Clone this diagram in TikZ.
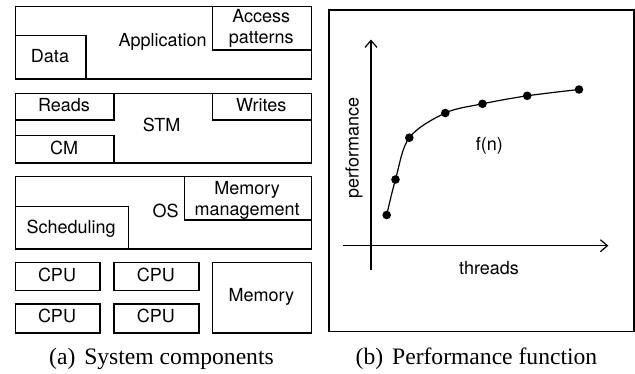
\documentclass[tikz,border=0pt]{standalone}
\usepackage{fontspec}
\setmainfont{Liberation Serif}
\setsansfont{TeX Gyre Heros}
\usetikzlibrary{arrows.meta}
\tikzset{
  blk/.style={draw, line width=1.2pt, inner sep=0pt, anchor=north west},
  lbl/.style={font=\sffamily\fontsize{18}{20}\selectfont, anchor=base, inner sep=0pt},
  captext/.style={font=\fontsize{23.6}{26}\selectfont, anchor=base, inner sep=0pt},
  axis/.style={line width=1.2pt, -{Straight Barb[length=7pt,width=12pt,line width=1.2pt]}},
  dot/.style={circle, fill=black, inner sep=0pt, minimum size=8.6pt},
}
\newcommand{\blkbox}[5]{\node[blk, minimum width=#4pt, minimum height=#5pt] (#1) at (#2,#3) {};}
\begin{document}
\begin{tikzpicture}[x=1pt, y=-1pt]
\useasboundingbox (0,0) rectangle (635,373);

% ---- (a) layered system components ----
% Application layer
\blkbox{app}{14.7}{6}{296}{72.3}
\blkbox{data}{14.7}{35}{70.6}{43.3}
\blkbox{access}{212}{6}{98.7}{43.3}
\node[lbl] (tapp) at (162.7,46.7) {Application};
\node[lbl] (tdata) at (50,62.3) {Data};
\node[lbl] (tacc1) at (261.3,22) {Access};
\node[lbl] (tacc2) at (261.3,43.3) {patterns};

% STM layer
\blkbox{stm}{14.7}{92.7}{296}{69.6}
\blkbox{reads}{14.7}{92.7}{98.6}{26.6}
\blkbox{cm}{14.7}{135}{98.6}{27.3}
\blkbox{writes}{212}{92.7}{98.7}{26.6}
\node[lbl] (tstm) at (161.7,131.7) {STM};
\node[lbl] (treads) at (64,111.7) {Reads};
\node[lbl] (tcm) at (64,154.3) {CM};
\node[lbl] (twrites) at (261.3,111.7) {Writes};

% OS layer
\blkbox{os}{14.7}{176}{296}{72.3}
\blkbox{sched}{14.7}{206}{113}{42.3}
\blkbox{memman}{183.7}{176}{127}{43.3}
\node[lbl] (tos) at (165.7,217.3) {OS};
\node[lbl] (tsched) at (71.2,233.3) {Scheduling};
\node[lbl] (tmm1) at (247.2,194) {Memory};
\node[lbl] (tmm2) at (247.2,215) {management};

% Hardware
\blkbox{cpua}{14.7}{261.7}{84.6}{28.3}
\blkbox{cpub}{113.3}{261.7}{85}{28.3}
\blkbox{cpuc}{14.7}{303.3}{84.6}{29}
\blkbox{cpud}{113.3}{303.3}{85}{29}
\blkbox{mem}{212}{261.7}{98.7}{70.6}
\node[lbl] (tcpua) at (57,281.7) {CPU};
\node[lbl] (tcpub) at (155.8,281.7) {CPU};
\node[lbl] (tcpuc) at (57,322.7) {CPU};
\node[lbl] (tcpud) at (155.8,322.7) {CPU};
\node[lbl] (tmem) at (261.3,301.7) {Memory};

\node[captext] (capa) at (161.5,364) {(a)\hspace{3pt} System components};

% ---- (b) performance function ----
\blkbox{frame}{328.3}{9.3}{305}{321.7}
\coordinate (ybot) at (371,270);
\coordinate (ytop) at (371,39.5);
\coordinate (xleft) at (342.7,245.7);
\coordinate (xright) at (608.3,245.7);
\draw[axis] (ybot) -- (ytop);
\draw[axis] (xleft) -- (xright);

\node[dot] (p1) at (386.7,215) {};
\node[dot] (p2) at (395.5,179.5) {};
\node[dot] (p3) at (409.3,137.7) {};
\node[dot] (p4) at (445.3,113) {};
\node[dot] (p5) at (482.5,103.8) {};
\node[dot] (p6) at (527.2,95.8) {};
\node[dot] (p7) at (579,89.5) {};
\draw[line width=1.2pt] plot[smooth, tension=0.55] coordinates {(p1) (p2) (p3) (p4) (p5) (p6) (p7)};

\node[lbl, anchor=center] (tfn) at (489.3,146) {f(n)};
\node[lbl, anchor=center] (tthr) at (489,268) {threads};
\node[lbl, anchor=center, rotate=90] (tperf) at (354,148) {performance};

\node[captext] (capb) at (476.5,364) {(b)\hspace{3pt} Performance function};
\end{tikzpicture}
\end{document}
